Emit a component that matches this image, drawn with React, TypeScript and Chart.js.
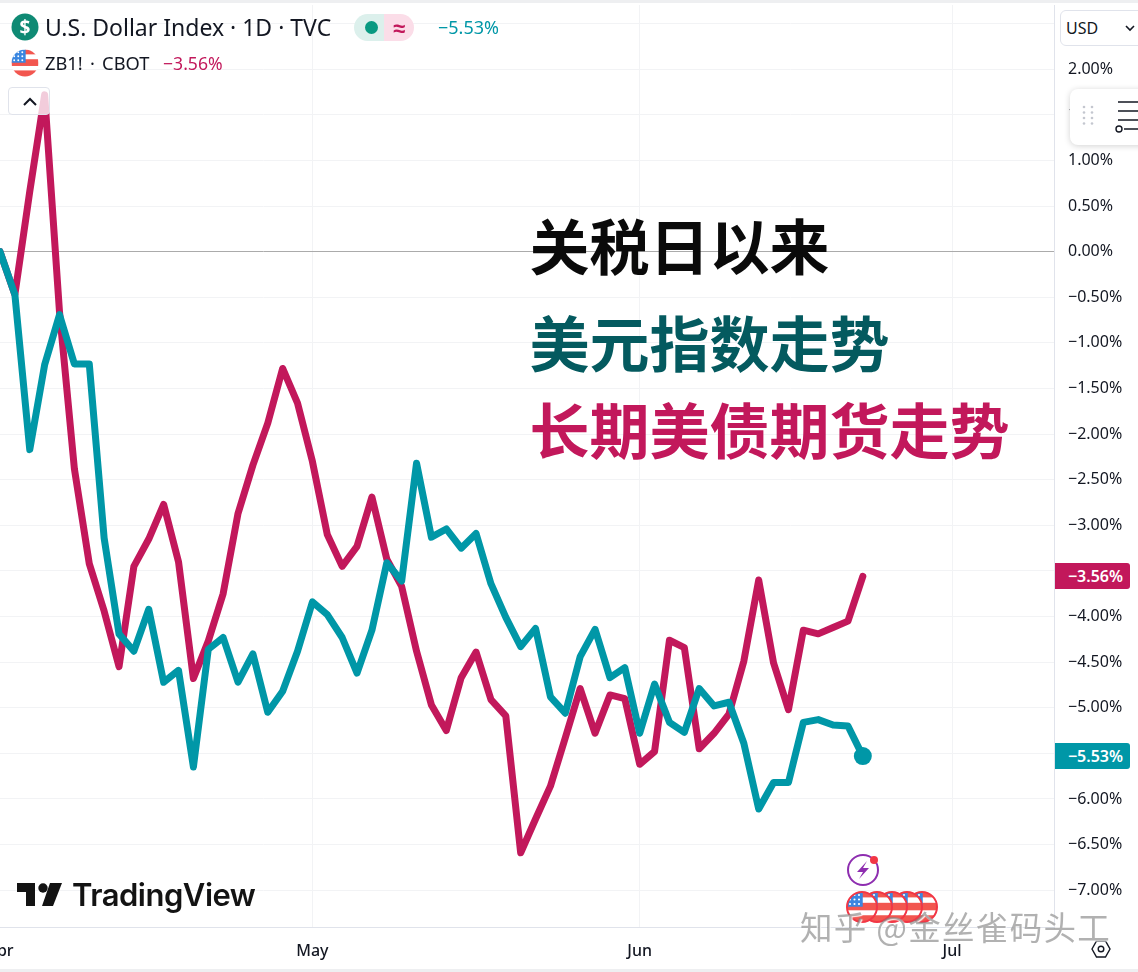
import React, { useEffect, useRef } from "react";
import { Chart, registerables } from "chart.js";

Chart.register(...registerables);

const dollarIndex = [
  0, -0.47, -2.17, -1.24, -0.69, -1.23, -1.23, -3.14, -4.19, -4.38,
  -3.92, -4.72, -4.59, -5.65, -4.36, -4.23, -4.72, -4.41, -5.05, -4.82,
  -4.38, -3.84, -3.98, -4.23, -4.62, -4.15, -3.41, -3.61, -2.32, -3.13,
  -3.04, -3.25, -3.09, -3.64, -4.01, -4.33, -4.13, -4.88, -5.06, -4.44,
  -4.14, -4.67, -4.56, -5.28, -4.74, -5.16, -5.27, -4.79, -4.98, -4.94,
  -5.39, -6.11, -5.82, -5.82, -5.16, -5.13, -5.19, -5.2, -5.53,
];
const bondFutures = [
  0, -0.47, 0.66, 1.72, -0.66, -2.38, -3.42, -3.94, -4.55, -3.45,
  -3.15, -2.77, -3.4, -4.68, -4.27, -3.75, -2.87, -2.34, -1.88, -1.28,
  -1.66, -2.3, -3.1, -3.45, -3.23, -2.69, -3.37, -3.67, -4.38, -4.97,
  -5.25, -4.67, -4.39, -4.91, -5.09, -6.59, -6.22, -5.86, -5.33, -4.79,
  -5.28, -4.86, -4.9, -5.62, -5.48, -4.26, -4.34, -5.45, -5.28, -5.07,
  -4.49, -3.6, -4.51, -5.02, -4.15, -4.19, -4.12, -4.05, -3.56,
];
const monthLabels = ["Apr", "May", "Jun", "Jul"];
const monthPositions = [0, 21, 43, 64];
const Y_MIN = -7.415;
const Y_MAX = 2.705;
const X_MAX = 70.85;

const UI_FONT = '"Noto Sans", sans-serif';
const TEAL = "#0097a7";
const CRIMSON = "#c2185b";
const GRID = "#f2f3f5";
const AXIS = "#e0e3eb";
const INK = "#131722";

const fmt = (v: number) => (v < 0 ? "\u2212" : "") + Math.abs(v).toFixed(2) + "%";

const Flag = ({ cx, cy, r, ring }: { cx: number; cy: number; r: number; ring?: boolean }) => {
  const id = `f${cx}-${cy}`;
  return (
    <g>
      <clipPath id={id}><circle cx={cx} cy={cy} r={r} /></clipPath>
      <g clipPath={`url(#${id})`}>
        <rect x={cx - r} y={cy - r} width={2 * r} height={2 * r} fill="#fff" />
        <rect x={cx - r} y={cy - r * 0.28} width={2 * r} height={r * 0.5} fill="#f2564f" />
        <rect x={cx} y={cy - r} width={r} height={r * 0.36} fill="#f2564f" />
        <rect x={cx - r} y={cy + r * 0.55} width={2 * r} height={r} fill="#f2564f" />
        <rect x={cx - r} y={cy - r} width={r * 1.05} height={r * 0.98} fill="#3a86e0" />
        {[0.2, 0.5, 0.8].map((a) =>
          [0.2, 0.5, 0.8].map((b) => (
            <circle key={`${a}${b}`} cx={cx - r + a * r} cy={cy - r + b * r} r={r * 0.07} fill="#fff" />
          ))
        )}
      </g>
      {ring && <circle cx={cx} cy={cy} r={r} fill="none" stroke="#f23645" strokeWidth={2} />}
    </g>
  );
};

const abs = (left: number, top: number, extra: React.CSSProperties = {}): React.CSSProperties => ({
  position: "absolute",
  left,
  top,
  whiteSpace: "nowrap",
  ...extra,
});

export default function App() {
  const ref = useRef<HTMLCanvasElement>(null);

  useEffect(() => {
    const chart = new Chart(ref.current!, {
      type: "line",
      data: {
        datasets: [
          {
            label: "U.S. Dollar Index",
            data: dollarIndex.map((y, x) => ({ x, y })),
            borderColor: TEAL,
            backgroundColor: TEAL,
            borderWidth: 7,
            tension: 0,
            borderJoinStyle: "round",
            borderCapStyle: "round",
            pointRadius: dollarIndex.map((_, i) => (i === dollarIndex.length - 1 ? 9 : 0)),
            pointBackgroundColor: TEAL,
            pointBorderWidth: 0,
          },
          {
            label: "ZB1!",
            data: bondFutures.map((y, x) => ({ x, y })),
            borderColor: CRIMSON,
            borderWidth: 7,
            tension: 0,
            borderJoinStyle: "round",
            borderCapStyle: "round",
            pointRadius: 0,
          },
        ],
      },
      options: {
        responsive: false,
        animation: false,
        events: [],
        layout: { padding: { top: 3, left: 0, right: 0, bottom: 0 } },
        plugins: { legend: { display: false }, tooltip: { enabled: false } },
        scales: {
          x: {
            type: "linear",
            min: 0,
            max: X_MAX,
            afterBuildTicks: (s: any) => {
              s.ticks = monthPositions.map((value) => ({ value }));
            },
            afterFit: (s: any) => {
              s.height = 45;
              s.paddingLeft = 0;
              s.paddingRight = 0;
            },
            grid: {
              color: (c: any) => (c.tick && c.tick.value === 0 ? "rgba(0,0,0,0)" : GRID),
              lineWidth: 1,
              drawTicks: false,
            },
            border: { display: false },
            ticks: {
              autoSkip: false,
              maxRotation: 0,
              padding: 14,
              color: INK,
              font: { family: UI_FONT, size: 16, weight: 500 },
              callback: (v: any) => monthLabels[monthPositions.indexOf(Number(v))] ?? "",
            },
          },
          y: {
            type: "linear",
            position: "right",
            min: Y_MIN,
            max: Y_MAX,
            afterFit: (s: any) => {
              s.width = 84;
              s.paddingTop = 0;
              s.paddingBottom = 0;
            },
            grid: {
              color: (c: any) => (c.tick && c.tick.value === 0 ? "#ababab" : GRID),
              lineWidth: 1,
              drawTicks: false,
            },
            border: { display: true, color: AXIS },
            ticks: {
              stepSize: 0.5,
              includeBounds: false,
              autoSkip: false,
              padding: 14,
              color: INK,
              font: { family: UI_FONT, size: 16 },
              callback: (v: any) => fmt(Number(v)),
            },
          },
        },
      },
    } as any);
    // Shift the canvas so the plot area sits flush with the page's left edge.
    const c = ref.current!;
    c.style.left = `${-chart.chartArea.left}px`;
    c.style.top = `${4.5 - chart.chartArea.top}px`;
    return () => chart.destroy();
  }, []);

  return (
    <div style={{ position: "absolute", left: 0, top: 0, width: 1138, height: 972, overflow: "hidden", background: "#fff", fontFamily: UI_FONT, color: INK }}>
      <canvas ref={ref} width={1147} height={977} style={{ position: "absolute", left: 0, top: 0, display: "block" }} />

      <div style={abs(0, 0, { width: 1138, height: 3, background: "#eeeff1" })} />
      <div style={abs(0, 927, { width: 1054, height: 1, background: AXIS })} />
      <div style={abs(0, 969, { width: 1138, height: 3, background: "#eeeff1" })} />

      <svg width={1138} height={972} style={{ position: "absolute", left: 0, top: 0 }}>
        <circle cx={25} cy={27} r={13.5} fill="#0f8a74" />
        <Flag cx={25} cy={63} r={13.5} />
        <circle cx={863} cy={870} r={15} fill="#fff" stroke="#8e2eb0" strokeWidth={2} />
        <path d="M867 861 L857 872 L863 872 L859 879 L869 868 L863 868 Z" fill="#8e2eb0" />
        <circle cx={874} cy={860} r={4} fill="#f23645" />
        {[922, 907, 892, 877, 862].map((cx) => (
          <Flag key={cx} cx={cx} cy={907} r={15} ring />
        ))}
        <path d="M17 883 H35 V906 H26 V892 H17 Z" fill="#131313" />
        <circle cx={43} cy={888} r={4.7} fill="#131313" />
        <path d="M50 883 H62 L53 906 H42 Z" fill="#131313" />
        <path d="M1092 949 L1096.5 941 H1105.5 L1110 949 L1105.5 957 H1096.5 Z" fill="none" stroke={INK} strokeWidth={1.4} />
        <circle cx={1101} cy={949} r={2.8} fill="none" stroke={INK} strokeWidth={1.4} />
      </svg>

      <div style={abs(25, 27, { transform: "translate(-50%,-50%)", color: "#fff", fontSize: 19, fontWeight: 700, lineHeight: "20px" })}>$</div>
      <div style={abs(45, 11, { fontSize: 23, lineHeight: "32px" })}>U.S. Dollar Index · 1D · TVC</div>

      <div style={abs(354, 14, { width: 30, height: 27, background: "#dcf0ec", borderRadius: "14px 0 0 14px" })} />
      <div style={abs(384, 14, { width: 30, height: 27, background: "#fbdde8", borderRadius: "0 14px 14px 0", color: CRIMSON, fontSize: 22, fontWeight: 700, lineHeight: "26px", textAlign: "center" })}>≈</div>
      <div style={abs(365, 21, { width: 13, height: 13, borderRadius: 7, background: "#089981" })} />
      <div style={abs(438, 14, { color: TEAL, fontSize: 18, lineHeight: "26px" })}>−5.53%</div>

      <div style={abs(45, 49, { fontSize: 18.3, lineHeight: "28px", wordSpacing: 2.5 })}>ZB1! · CBOT</div>
      <div style={abs(163, 49, { color: CRIMSON, fontSize: 17.6, lineHeight: "28px" })}>−3.56%</div>

      <div style={abs(8, 87, { width: 42, height: 28, boxSizing: "border-box", border: `1px solid ${AXIS}`, borderRadius: 4, background: "rgba(255,255,255,0.78)" })}>
        <svg width={40} height={26} style={{ display: "block" }}>
          <path d="M15 17 L21 11 L27 17" fill="none" stroke={INK} strokeWidth={2} />
        </svg>
      </div>

      <div style={abs(1060, 10, { width: 90, height: 36, boxSizing: "border-box", border: `1px solid ${AXIS}`, borderRadius: 6, background: "#fff", fontSize: 16, lineHeight: "34px", paddingLeft: 5 })}>USD</div>
      <svg width={12} height={8} style={{ position: "absolute", left: 1124, top: 24 }}>
        <path d="M2 2 L6 6 L10 2" fill="none" stroke={INK} strokeWidth={1.6} />
      </svg>

      <div style={abs(1070, 89, { width: 90, height: 56, borderRadius: 8, background: "#fff", boxShadow: "0 1px 6px rgba(0,0,0,0.18)" })}>
        <svg width={68} height={56} style={{ display: "block" }}>
          {[18, 23.5, 29, 34.5].map((y) => [14, 22].map((x) => <circle key={`${x}${y}`} cx={x} cy={y} r={1.3} fill="#c4c7cf" />))}
          <path d="M48 13 H68 M48 22 H68 M48 31 H68 M54 40 H68" stroke={INK} strokeWidth={1.3} fill="none" />
          <circle cx={49} cy={40} r={3} fill="#fff" stroke={INK} strokeWidth={1.4} />
        </svg>
      </div>

      <div style={abs(1055, 563, { width: 75, height: 26, background: CRIMSON, color: "#fff", borderRadius: "0 3px 3px 0", fontSize: 16, fontWeight: 600, lineHeight: "26px", textAlign: "right", boxSizing: "border-box" })}>
        <span style={{ marginRight: 7 }}>−3.56%</span>
      </div>
      <div style={abs(1055, 743, { width: 75, height: 26, background: TEAL, color: "#fff", borderRadius: "0 3px 3px 0", fontSize: 16, fontWeight: 600, lineHeight: "26px", textAlign: "right", boxSizing: "border-box" })}>
        <span style={{ marginRight: 7 }}>−5.53%</span>
      </div>

      <div style={abs(72, 876, { fontFamily: "Inter, sans-serif", fontSize: 31, fontWeight: 600, lineHeight: "38px", letterSpacing: -0.5, color: "#131313" })}>TradingView</div>

      {[
        { text: "关税日以来", top: 199, color: "#0a0a0a" },
        { text: "美元指数走势", top: 296, color: "#045a5f" },
        { text: "长期美债期货走势", top: 383, color: CRIMSON },
      ].map((t) => (
        <div key={t.text} style={abs(529.5, t.top, { fontFamily: '"Noto Sans CJK SC", sans-serif', fontWeight: 700, fontSize: 60, lineHeight: "90px", color: t.color })}>{t.text}</div>
      ))}

      <div style={abs(800, 903, { fontFamily: '"Noto Sans CJK SC", sans-serif', fontSize: 32.5, lineHeight: "46px", letterSpacing: 1.3, color: "rgba(125,125,125,0.6)", textShadow: "1px 1px 1px rgba(255,255,255,0.9)" })}>知乎 @金丝雀码头工</div>
    </div>
  );
}
